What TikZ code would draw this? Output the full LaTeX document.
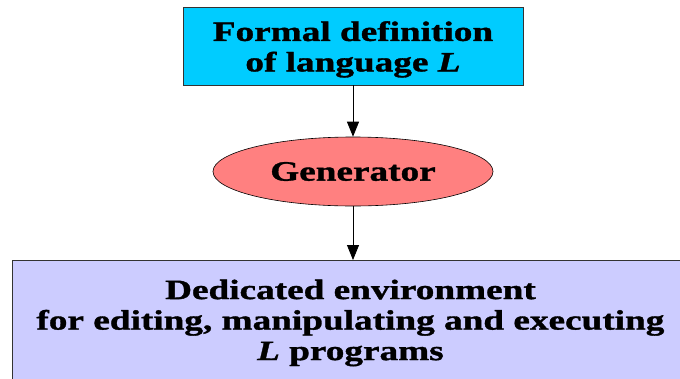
\documentclass[tikz,border=0pt]{standalone}
\usepackage{fontspec}
\setmainfont{Liberation Serif}[FakeStretch=1.33, FakeBold=1.2]
\usetikzlibrary{shapes.geometric,arrows.meta}
\definecolor{defcyan}{HTML}{00CCFF}
\definecolor{gensalmon}{HTML}{FF8080}
\definecolor{envlilac}{HTML}{CCCCFF}
\tikzset{
  lbl/.style={font=\fontsize{28}{30.5}\selectfont\bfseries, align=center, text=black},
  defbox/.style={lbl, rectangle, draw=black!80, line width=0.9pt, fill=defcyan,
    minimum width=340pt, minimum height=78pt, inner sep=0pt},
  genoval/.style={lbl, ellipse, draw=black, line width=0.6pt, fill=gensalmon,
    minimum width=280pt, minimum height=69pt, inner sep=0pt},
  envbox/.style={lbl, rectangle, draw=black!80, line width=0.9pt, fill=envlilac,
    minimum width=676pt, minimum height=125pt, inner sep=0pt},
  flow/.style={draw=black, line width=0.8pt, -{Triangle[length=15pt,width=12pt]}}
}
\begin{document}
\begin{tikzpicture}[x=1pt,y=-1pt]
  \useasboundingbox (0,0) rectangle (680,378);
  \fill[white] (0,0) rectangle (680,378);
  \node[defbox] (def) at (353,46) {\rule{0pt}{26.5pt}Formal definition\\of language \textit{L}};
  \node[genoval] (gen) at (353,171.5) {Generator};
  \node[envbox, anchor=north west] (env) at (12,260)
    {Dedicated environment\\for editing, manipulating and executing\\\textit{L} programs};
  \draw[flow] (def.south -| gen.north) -- (gen.north);
  \draw[flow] (gen.south) -- (gen.south |- env.north);
\end{tikzpicture}
\end{document}
